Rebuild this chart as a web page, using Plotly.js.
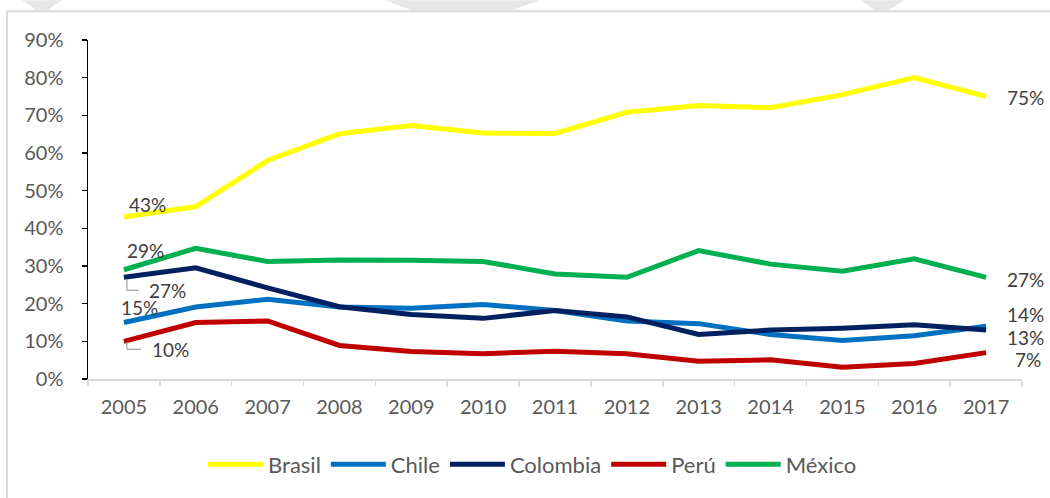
<!DOCTYPE html>
<html>
<head>
<meta charset="utf-8">
<script src="https://cdn.plot.ly/plotly-3.0.1.min.js"></script>
<style>
html,body{margin:0;padding:0;background:#fff;}
#chart{width:1050px;height:498px;}
</style>
</head>
<body>
<div id="chart"></div>
<script>
const years = ['2005','2006','2007','2008','2009','2010','2011','2012','2013','2014','2015','2016','2017'];
const brasil   = [43, 45.8, 58, 65.1, 67.3, 65.3, 65.2, 70.8, 72.6, 72, 75.5, 80, 75];
const chile    = [15, 19.1, 21.2, 19.1, 18.8, 19.8, 18.2, 15.4, 14.7, 11.8, 10.2, 11.5, 14];
const colombia = [27, 29.5, 24.2, 19.2, 17.1, 16.1, 18.2, 16.5, 11.8, 13, 13.5, 14.4, 13];
const peru     = [10, 15, 15.4, 8.9, 7.3, 6.7, 7.4, 6.7, 4.7, 5.1, 3.1, 4.1, 7];
const mexico   = [29, 34.7, 31.2, 31.6, 31.5, 31.2, 27.9, 27, 34.1, 30.5, 28.6, 31.9, 27];
const seriesNames = ['Brasil','Chile','Colombia','Perú','México'];
const seriesColors = ['#FFFF00','#0070C0','#002060','#C00000','#00B050'];
const seriesData = [brasil, chile, colombia, peru, mexico];
const yTickVals = [0,10,20,30,40,50,60,70,80,90];
const yTickText = ['0%','10%','20%','30%','40%','50%','60%','70%','80%','90%'];

// label offsets in pixels: [start xshift, start yshift, end xshift, end yshift]
const labelShifts = {
  'Brasil':   [24, 13, 39, -1],
  'Chile':    [16, 15, 39, 12],
  'Colombia': [44, -13, 39, -7],
  'Perú':     [47, -8, 42, -7],
  'México':   [22, 19, 39, -2]
};

const FONT = 'Lato, "Open Sans", sans-serif';
const TEXTC = '#404040';

const traces = seriesNames.map((n, i) => ({
  type: 'scatter', mode: 'lines', name: n,
  x: years, y: seriesData[i],
  line: {color: seriesColors[i], width: 5},
  hoverinfo: 'skip'
}));

const annotations = [];
seriesNames.forEach((n, i) => {
  const d = seriesData[i];
  const s = labelShifts[n];
  const L = d.length - 1;
  annotations.push({x: 0, y: d[0], xref: 'x', yref: 'y', text: Math.round(d[0]) + '%',
    showarrow: false, xanchor: 'center', yanchor: 'middle', xshift: s[0], yshift: s[1], borderpad: 0,
    font: {family: FONT, size: 19, color: TEXTC}});
  annotations.push({x: L, y: d[L], xref: 'x', yref: 'y', text: Math.round(d[L]) + '%',
    showarrow: false, xanchor: 'center', yanchor: 'middle', xshift: s[2], yshift: s[3], borderpad: 0,
    font: {family: FONT, size: 19, color: TEXTC}});
});

function px2px(px){ return (px - 88) / 934; }
function py2py(py){ return (381 - py) / 341; }

const shapes = [];
function leader(yv, y0, y1, x1) {
  const base = {type: 'line', xref: 'x', yref: 'y', xsizemode: 'pixel', ysizemode: 'pixel',
    xanchor: 0, yanchor: yv, line: {color: '#A6A6A6', width: 1.3}};
  shapes.push(Object.assign({}, base, {x0: 3, x1: 3, y0: y0, y1: y1}));
  shapes.push(Object.assign({}, base, {x0: 3, x1: x1, y0: y1, y1: y1}));
}
leader(colombia[0], -2, -13, 15);
leader(peru[0], -1, -8, 17);

shapes.push({type: 'path', xref: 'paper', yref: 'paper', layer: 'below',
  path: `M ${px2px(7)} ${py2py(600)} L ${px2px(7)} ${py2py(11)} L ${px2px(1060)} ${py2py(11)}`,
  line: {color: '#D9D9D9', width: 2}});
const wmC = '#E6E6E6';
shapes.push({type: 'path', xref: 'paper', yref: 'paper', layer: 'below', fillcolor: wmC, line: {width: 0},
  path: `M ${px2px(385)} ${py2py(0)} L ${px2px(539)} ${py2py(0)} L ${px2px(512)} ${py2py(10)} L ${px2px(412)} ${py2py(10)} Z`});
shapes.push({type: 'path', xref: 'paper', yref: 'paper', layer: 'below', fillcolor: wmC, line: {width: 0},
  path: `M ${px2px(22)} ${py2py(0)} L ${px2px(62)} ${py2py(0)} L ${px2px(54)} ${py2py(5)} L ${px2px(48)} ${py2py(10)} L ${px2px(36)} ${py2py(10)} L ${px2px(30)} ${py2py(5)} Z`});
shapes.push({type: 'path', xref: 'paper', yref: 'paper', layer: 'below', fillcolor: wmC, line: {width: 0},
  path: `M ${px2px(860)} ${py2py(0)} L ${px2px(904)} ${py2py(0)} L ${px2px(896)} ${py2py(5)} L ${px2px(889)} ${py2py(10)} L ${px2px(875)} ${py2py(10)} L ${px2px(868)} ${py2py(5)} Z`});

const layout = {
  width: 1050, height: 498,
  margin: {l: 88, r: 28, t: 40, b: 117},
  paper_bgcolor: '#FFFFFF', plot_bgcolor: '#FFFFFF',
  font: {family: FONT, size: 20, color: '#595959'},
  showlegend: true,
  legend: {orientation: 'h', x: 0.476, xanchor: 'center', y: -0.19, yanchor: 'top',
    font: {family: FONT, size: 22, color: '#595959'}, itemwidth: 55, tracegroupgap: 0},
  xaxis: {
    type: 'category', range: [-0.5, 12.5], showgrid: false, zeroline: false,
    showline: true, linecolor: '#D9D9D9', linewidth: 1.5,
    ticks: 'outside', ticklen: 6, tickcolor: '#D9D9D9', tickwidth: 1.5, tickson: 'boundaries',
    tickfont: {family: FONT, size: 20, color: '#595959'}, ticklabelstandoff: 9, fixedrange: true
  },
  yaxis: {
    range: [0, 90], showgrid: false, zeroline: false,
    showline: true, linecolor: '#000000', linewidth: 1.5,
    ticks: 'outside', ticklen: 5, tickcolor: '#000000', tickwidth: 1.5,
    tickvals: yTickVals, ticktext: yTickText,
    tickfont: {family: FONT, size: 20, color: '#595959'}, ticklabelstandoff: 14, fixedrange: true
  },
  annotations: annotations,
  shapes: shapes
};

Plotly.newPlot('chart', traces, layout, {displayModeBar: false, staticPlot: true});
</script>
</body>
</html>
